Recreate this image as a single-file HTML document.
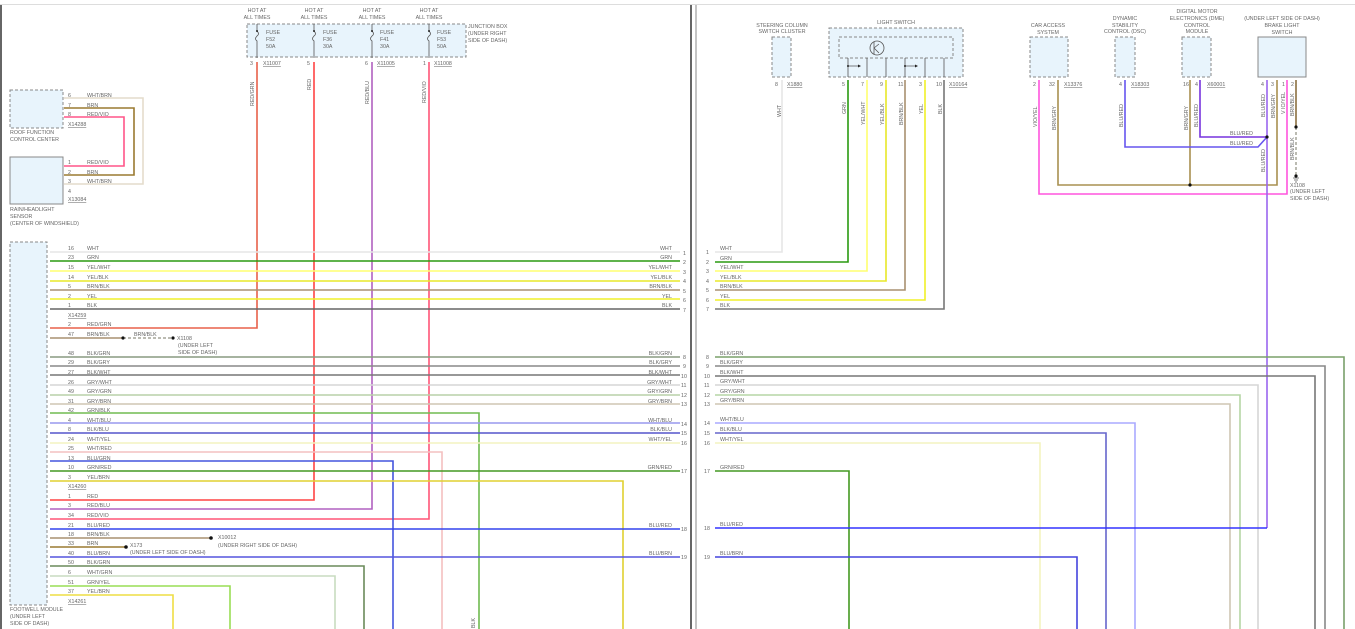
<!DOCTYPE html>
<html><head><meta charset="utf-8"><style>
html,body{margin:0;padding:0;background:#fff;}
svg{display:block;font-family:"Liberation Sans",sans-serif;}
text{font-size:5.3px;fill:#666;}
.b{fill:#e8f4fc;stroke:#888;stroke-width:1;stroke-dasharray:3,2;}
.s{fill:#e8f4fc;stroke:#888;stroke-width:1;}
.w{fill:none;stroke-width:1.6;}
.u{text-decoration:underline;}
</style></head><body>
<svg width="1355" height="629" viewBox="0 0 1355 629" xmlns="http://www.w3.org/2000/svg">
<line x1="0" y1="4.5" x2="1355" y2="4.5" stroke="#ddd"/>
<line x1="1" y1="5" x2="1" y2="629" stroke="#333" stroke-width="1.5"/>
<line x1="691" y1="5" x2="691" y2="629" stroke="#333" stroke-width="1.5"/>
<line x1="696" y1="5" x2="696" y2="629" stroke="#888" stroke-width="1"/>

<!-- Junction box -->
<rect class="b" x="247" y="24" width="219" height="33"/>
<g text-anchor="middle">
<text x="257" y="12">HOT AT</text><text x="257" y="19">ALL TIMES</text>
<text x="314" y="12">HOT AT</text><text x="314" y="19">ALL TIMES</text>
<text x="372" y="12">HOT AT</text><text x="372" y="19">ALL TIMES</text>
<text x="429" y="12">HOT AT</text><text x="429" y="19">ALL TIMES</text>
</g>
<text x="468" y="28">JUNCTION BOX</text><text x="468" y="35">(UNDER RIGHT</text><text x="468" y="42">SIDE OF DASH)</text>
<g>
<text x="266" y="34">FUSE</text><text x="266" y="41">F52</text><text x="266" y="48">50A</text>
<text x="323" y="34">FUSE</text><text x="323" y="41">F36</text><text x="323" y="48">30A</text>
<text x="380" y="34">FUSE</text><text x="380" y="41">F41</text><text x="380" y="48">30A</text>
<text x="437" y="34">FUSE</text><text x="437" y="41">F53</text><text x="437" y="48">50A</text>
</g>
<g stroke="#555" fill="none" stroke-width="0.8">
<path d="M257 24v7q3 3 0 5q-3 3 0 5v17M314 24v7q3 3 0 5q-3 3 0 5v17M372 24v7q3 3 0 5q-3 3 0 5v17M429 24v7q3 3 0 5q-3 3 0 5v17"/>
</g>
<g fill="#222"><circle cx="257" cy="31" r="1"/><circle cx="314" cy="31" r="1"/><circle cx="372" cy="31" r="1"/><circle cx="429" cy="31" r="1"/></g>
<text x="250" y="65">3</text><text x="263" y="65" class="u">X11007</text>
<text x="307" y="65">5</text>
<text x="365" y="65">6</text><text x="377" y="65" class="u">X11005</text>
<text x="423" y="65">1</text><text x="434" y="65" class="u">X11008</text>
<g transform="rotate(-90)">
<text x="-106" y="254">RED/GRN</text>
<text x="-90" y="311">RED</text>
<text x="-104" y="369">RED/BLU</text>
<text x="-103" y="426">RED/VIO</text>
</g>

<path class="w" stroke="#e8604a" d="M257 62V328H50"/>
<path class="w" stroke="#ff4444" d="M314 62V500H50"/>
<path class="w" stroke="#b060c0" d="M372 62V509H50"/>
<path class="w" stroke="#ff5577" d="M429 62V519H50"/>

<rect class="b" x="10" y="90" width="53" height="38"/>
<text x="10" y="134">ROOF FUNCTION</text><text x="10" y="141">CONTROL CENTER</text>
<rect class="s" x="10" y="157" width="53" height="47"/>
<text x="10" y="211">RAIN/HEADLIGHT</text><text x="10" y="218">SENSOR</text><text x="10" y="225">(CENTER OF WINDSHIELD)</text>
<path class="w" stroke="#e4dccc" d="M64 98H143V184H64"/>
<path class="w" stroke="#9a7a30" d="M64 108H134V175H64"/>
<path class="w" stroke="#ff5588" d="M64 117H124V166H64"/>
<text x="68" y="97">6</text><text x="87" y="97">WHT/BRN</text>
<text x="68" y="107">7</text><text x="87" y="107">BRN</text>
<text x="68" y="116">8</text><text x="87" y="116">RED/VIO</text>
<text x="68" y="126" class="u">X14288</text>
<text x="68" y="164">1</text><text x="87" y="164">RED/VIO</text>
<text x="68" y="174">2</text><text x="87" y="174">BRN</text>
<text x="68" y="183">3</text><text x="87" y="183">WHT/BRN</text>
<text x="68" y="193">4</text>
<text x="68" y="201" class="u">X13084</text>

<rect class="b" x="10" y="242" width="37" height="363"/>
<text x="10" y="611">FOOTWELL MODULE</text><text x="10" y="618">(UNDER LEFT</text><text x="10" y="625">SIDE OF DASH)</text>

<g>
<path class="w" stroke="#e6e6e6" d="M50 252H680"/>
<path class="w" stroke="#2a9a10" d="M50 261H680"/>
<path class="w" stroke="#ffff70" d="M50 271H680"/>
<path class="w" stroke="#e8e828" d="M50 281H680"/>
<path class="w" stroke="#a89070" d="M50 290H680"/>
<path class="w" stroke="#f0f028" d="M50 299H680"/>
<path class="w" stroke="#666" d="M50 309H680"/>
<path class="w" stroke="#a89070" d="M50 338H123"/>
<path fill="none" stroke="#776" stroke-width="1" stroke-dasharray="3,2" d="M123 338H173"/>
<path class="w" stroke="#889a80" d="M50 357H680"/>
<path class="w" stroke="#888" d="M50 366H680"/>
<path class="w" stroke="#777" d="M50 375H680"/>
<path class="w" stroke="#d6d6d6" d="M50 385H680"/>
<path class="w" stroke="#b8d0a8" d="M50 395H680"/>
<path class="w" stroke="#cfc6b4" d="M50 404H680"/>
<path class="w" stroke="#70bb50" d="M50 413H479V629"/>
<path class="w" stroke="#9999ee" d="M50 423H680"/>
<path class="w" stroke="#5555cc" d="M50 433H680"/>
<path class="w" stroke="#f4f4c0" d="M50 443H680"/>
<path class="w" stroke="#f4c0c0" d="M50 452H442V629"/>
<path class="w" stroke="#4455dd" d="M50 461H393V629"/>
<path class="w" stroke="#449922" d="M50 471H680"/>
<path class="w" stroke="#e0d030" d="M50 481H623V629"/>
<path class="w" stroke="#3344ee" d="M50 529H680"/>
<path class="w" stroke="#a89070" d="M50 538H211"/>
<path class="w" stroke="#9a7a30" d="M50 547H126"/>
<path class="w" stroke="#5555dd" d="M50 557H680"/>
<path class="w" stroke="#6a8a5a" d="M50 566H364V629"/>
<path class="w" stroke="#c8dcc0" d="M50 576H335V629"/>
<path class="w" stroke="#99dd55" d="M50 586H230V629"/>
<path class="w" stroke="#eedd44" d="M50 595H173V629"/>
</g>
<g fill="#111"><circle cx="123" cy="338" r="1.6"/><circle cx="173" cy="338" r="1.6"/><circle cx="211" cy="538" r="1.8"/><circle cx="126" cy="547" r="1.8"/></g>
<g>
<text x="68" y="250">16</text><text x="87" y="250">WHT</text>
<text x="68" y="259">23</text><text x="87" y="259">GRN</text>
<text x="68" y="269">15</text><text x="87" y="269">YEL/WHT</text>
<text x="68" y="279">14</text><text x="87" y="279">YEL/BLK</text>
<text x="68" y="288">5</text><text x="87" y="288">BRN/BLK</text>
<text x="68" y="298">2</text><text x="87" y="298">YEL</text>
<text x="68" y="307">1</text><text x="87" y="307">BLK</text>
<text x="68" y="317" class="u">X14259</text>
<text x="68" y="326">2</text><text x="87" y="326">RED/GRN</text>
<text x="68" y="336">47</text><text x="87" y="336">BRN/BLK</text><text x="134" y="336">BRN/BLK</text>
<text x="177" y="340">X1108</text><text x="178" y="347">(UNDER LEFT</text><text x="178" y="354">SIDE OF DASH)</text>
<text x="68" y="355">48</text><text x="87" y="355">BLK/GRN</text>
<text x="68" y="364">29</text><text x="87" y="364">BLK/GRY</text>
<text x="68" y="374">27</text><text x="87" y="374">BLK/WHT</text>
<text x="68" y="384">26</text><text x="87" y="384">GRY/WHT</text>
<text x="68" y="393">49</text><text x="87" y="393">GRY/GRN</text>
<text x="68" y="403">31</text><text x="87" y="403">GRY/BRN</text>
<text x="68" y="412">42</text><text x="87" y="412">GRN/BLK</text>
<text x="68" y="422">4</text><text x="87" y="422">WHT/BLU</text>
<text x="68" y="431">8</text><text x="87" y="431">BLK/BLU</text>
<text x="68" y="441">24</text><text x="87" y="441">WHT/YEL</text>
<text x="68" y="450">25</text><text x="87" y="450">WHT/RED</text>
<text x="68" y="460">13</text><text x="87" y="460">BLU/GRN</text>
<text x="68" y="469">10</text><text x="87" y="469">GRN/RED</text>
<text x="68" y="479">3</text><text x="87" y="479">YEL/BRN</text>
<text x="68" y="488" class="u">X14260</text>
<text x="68" y="498">1</text><text x="87" y="498">RED</text>
<text x="68" y="507">3</text><text x="87" y="507">RED/BLU</text>
<text x="68" y="517">34</text><text x="87" y="517">RED/VIO</text>
<text x="68" y="527">21</text><text x="87" y="527">BLU/RED</text>
<text x="68" y="536">18</text><text x="87" y="536">BRN/BLK</text>
<text x="218" y="539">X10012</text><text x="218" y="547">(UNDER RIGHT SIDE OF DASH)</text>
<text x="68" y="545">33</text><text x="87" y="545">BRN</text>
<text x="130" y="547">X173</text><text x="130" y="554">(UNDER LEFT SIDE OF DASH)</text>
<text x="68" y="555">40</text><text x="87" y="555">BLU/BRN</text>
<text x="68" y="564">50</text><text x="87" y="564">BLK/GRN</text>
<text x="68" y="574">6</text><text x="87" y="574">WHT/GRN</text>
<text x="68" y="584">51</text><text x="87" y="584">GRN/YEL</text>
<text x="68" y="593">37</text><text x="87" y="593">YEL/BRN</text>
<text x="68" y="603" class="u">X14261</text>
</g>
<g text-anchor="end">
<text x="672" y="250">WHT</text><text x="672" y="259">GRN</text><text x="672" y="269">YEL/WHT</text><text x="672" y="279">YEL/BLK</text><text x="672" y="288">BRN/BLK</text><text x="672" y="298">YEL</text><text x="672" y="307">BLK</text>
<text x="672" y="355">BLK/GRN</text><text x="672" y="364">BLK/GRY</text><text x="672" y="374">BLK/WHT</text><text x="672" y="384">GRY/WHT</text><text x="672" y="393">GRY/GRN</text><text x="672" y="403">GRY/BRN</text>
<text x="672" y="422">WHT/BLU</text><text x="672" y="431">BLK/BLU</text><text x="672" y="441">WHT/YEL</text><text x="672" y="469">GRN/RED</text><text x="672" y="527">BLU/RED</text><text x="672" y="555">BLU/BRN</text>
</g>
<g>
<text x="683" y="255">1</text><text x="683" y="264">2</text><text x="683" y="274">3</text><text x="683" y="283">4</text><text x="683" y="293">5</text><text x="683" y="302">6</text><text x="683" y="312">7</text>
<text x="683" y="359">8</text><text x="683" y="368">9</text><text x="681" y="378">10</text><text x="681" y="387">11</text><text x="681" y="397">12</text><text x="681" y="406">13</text>
<text x="681" y="426">14</text><text x="681" y="435">15</text><text x="681" y="445">16</text><text x="681" y="473">17</text><text x="681" y="531">18</text><text x="681" y="559">19</text>
</g>
<text transform="translate(475 628) rotate(-90)">BLK</text>

<g text-anchor="middle">
<text x="782" y="27">STEERING COLUMN</text><text x="782" y="33">SWITCH CLUSTER</text>
<text x="896" y="24">LIGHT SWITCH</text>
<text x="1048" y="27">CAR ACCESS</text><text x="1048" y="34">SYSTEM</text>
<text x="1125" y="20">DYNAMIC</text><text x="1125" y="27">STABILITY</text><text x="1125" y="33">CONTROL (DSC)</text>
<text x="1197" y="13">DIGITAL MOTOR</text><text x="1197" y="20">ELECTRONICS (DME)</text><text x="1197" y="27">CONTROL</text><text x="1197" y="33">MODULE</text>
<text x="1282" y="20">(UNDER LEFT SIDE OF DASH)</text><text x="1282" y="27">BRAKE LIGHT</text><text x="1282" y="34">SWITCH</text>
</g>
<rect class="b" x="772" y="37" width="19" height="40"/>
<rect class="b" x="829" y="28" width="134" height="49"/>
<rect class="b" x="839" y="37" width="114" height="21"/>
<circle cx="877" cy="48" r="7" fill="none" stroke="#555" stroke-width="0.8"/>
<path d="M874 42v12M874 48l5-4M874 48l5 5" stroke="#555" stroke-width="0.8" fill="none"/>
<g stroke="#555" stroke-width="0.8" fill="none">
<path d="M848 58v19M867 58v19M886 58v19M905 58v19M925 58v19M944 58v19M848 66h10M905 66h10"/>
</g>
<g fill="#222"><circle cx="848" cy="66" r="1"/><circle cx="905" cy="66" r="1"/>
<path d="M858 64.5l3 1.5l-3 1.5zM915 64.5l3 1.5l-3 1.5z"/></g>
<rect class="b" x="1030" y="37" width="38" height="40"/>
<rect class="b" x="1115" y="37" width="20" height="40"/>
<rect class="b" x="1182" y="37" width="29" height="40"/>
<rect class="s" x="1258" y="37" width="48" height="40"/>
<g>
<text x="775" y="86">8</text><text x="787" y="86" class="u">X1880</text>
<text x="842" y="86">5</text><text x="861" y="86">7</text><text x="880" y="86">9</text><text x="898" y="86">11</text><text x="919" y="86">3</text><text x="936" y="86">10</text><text x="949" y="86" class="u">X10164</text>
<text x="1033" y="86">2</text><text x="1049" y="86">32</text><text x="1064" y="86" class="u">X13376</text>
<text x="1119" y="86">4</text><text x="1131" y="86" class="u">X18303</text>
<text x="1183" y="86">16</text><text x="1195" y="86">4</text><text x="1207" y="86" class="u">X60001</text>
<text x="1261" y="86">4</text><text x="1271" y="86">3</text><text x="1282" y="86">1</text><text x="1291" y="86">2</text>
</g>
<g transform="rotate(-90)">
<text x="-117" y="781">WHT</text>
<text x="-114" y="846">GRN</text>
<text x="-125" y="865">YEL/WHT</text>
<text x="-125" y="884">YEL/BLK</text>
<text x="-125" y="903">BRN/BLK</text>
<text x="-114" y="923">YEL</text>
<text x="-114" y="942">BLK</text>
<text x="-127" y="1037">VIO/YEL</text>
<text x="-130" y="1056">BRN/GRY</text>
<text x="-127" y="1123">BLU/RED</text>
<text x="-130" y="1188">BRN/GRY</text>
<text x="-127" y="1198">BLU/RED</text>
<text x="-117" y="1265">BLU/RED</text>
<text x="-118" y="1275">BRN/GRY</text>
<text x="-114" y="1285">V IO/YEL</text>
<text x="-116" y="1294">BRN/BLK</text>
<text x="-172" y="1265">BLU/RED</text>
<text x="-160" y="1294">BRN/BLK</text>
</g>
<path class="w" stroke="#e6e6e6" d="M782 80V252H715"/>
<path class="w" stroke="#2a9a10" d="M848 80V262H715"/>
<path class="w" stroke="#ffff70" d="M867 80V271H715"/>
<path class="w" stroke="#e8e828" d="M886 80V281H715"/>
<path class="w" stroke="#a89070" d="M905 80V290H715"/>
<path class="w" stroke="#f0f028" d="M925 80V300H715"/>
<path class="w" stroke="#777" d="M944 80V309H715"/>
<path class="w" stroke="#ff55dd" d="M1039 80V194H1287V80"/>
<path class="w" stroke="#a89050" d="M1058 80V185H1277V80"/>
<path class="w" stroke="#a89050" d="M1190 80V185"/>
<path class="w" stroke="#6655ee" d="M1125 80V147H1258L1267 137"/>
<path class="w" stroke="#7733dd" d="M1200 80V137H1267"/>
<path class="w" stroke="#9966ee" d="M1267 80V528"/>
<path class="w" stroke="#8a7040" d="M1296 80V127"/>
<path fill="none" stroke="#776" stroke-width="1" stroke-dasharray="3,2" d="M1296 127V176"/>
<path stroke="#555" stroke-width="0.8" d="M1293 178h6M1294 180h4M1295 182h2"/>
<g fill="#111"><circle cx="1267" cy="137" r="1.6"/><circle cx="1190" cy="185" r="1.6"/><circle cx="1296" cy="127" r="1.6"/><circle cx="1296" cy="176" r="1.6"/></g>
<text x="1230" y="135">BLU/RED</text><text x="1230" y="145">BLU/RED</text>
<text x="1290" y="187">X1108</text><text x="1290" y="193">(UNDER LEFT</text><text x="1290" y="200">SIDE OF DASH)</text>
<path class="w" stroke="#7aa06a" d="M715 357H1344V629"/>
<path class="w" stroke="#888" d="M715 366H1325V629"/>
<path class="w" stroke="#777" d="M715 376H1315V629"/>
<path class="w" stroke="#d6d6d6" d="M715 385H1258V629"/>
<path class="w" stroke="#b5d6a5" d="M715 395H1240V629"/>
<path class="w" stroke="#cfc6b4" d="M715 404H1230V629"/>
<path class="w" stroke="#aaaaff" d="M715 423H1135V629"/>
<path class="w" stroke="#6666cc" d="M715 433H1106V629"/>
<path class="w" stroke="#f4f4c0" d="M715 443H1040V629"/>
<path class="w" stroke="#449922" d="M715 471H849V629"/>
<path class="w" stroke="#3333ff" d="M715 528H1267"/>
<path class="w" stroke="#4444dd" d="M715 557H1077V629"/>
<g>
<text x="720" y="250">WHT</text><text x="720" y="260">GRN</text><text x="720" y="269">YEL/WHT</text><text x="720" y="279">YEL/BLK</text><text x="720" y="288">BRN/BLK</text><text x="720" y="298">YEL</text><text x="720" y="307">BLK</text>
<text x="720" y="355">BLK/GRN</text><text x="720" y="364">BLK/GRY</text><text x="720" y="374">BLK/WHT</text><text x="720" y="383">GRY/WHT</text><text x="720" y="393">GRY/GRN</text><text x="720" y="402">GRY/BRN</text>
<text x="720" y="421">WHT/BLU</text><text x="720" y="431">BLK/BLU</text><text x="720" y="441">WHT/YEL</text><text x="720" y="469">GRN/RED</text><text x="720" y="526">BLU/RED</text><text x="720" y="555">BLU/BRN</text>
<text x="706" y="254">1</text><text x="706" y="264">2</text><text x="706" y="273">3</text><text x="706" y="283">4</text><text x="706" y="292">5</text><text x="706" y="302">6</text><text x="706" y="311">7</text>
<text x="706" y="359">8</text><text x="706" y="368">9</text><text x="704" y="378">10</text><text x="704" y="387">11</text><text x="704" y="397">12</text><text x="704" y="406">13</text>
<text x="704" y="425">14</text><text x="704" y="435">15</text><text x="704" y="445">16</text><text x="704" y="473">17</text><text x="704" y="530">18</text><text x="704" y="559">19</text>
</g>
</svg>
</body></html>
